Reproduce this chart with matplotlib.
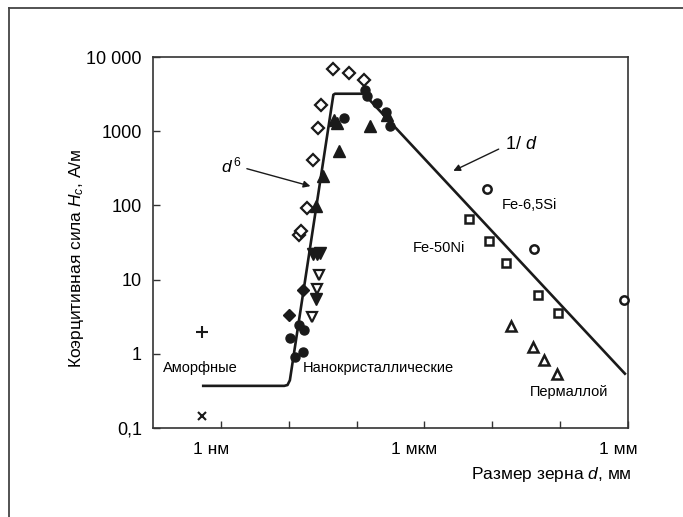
import matplotlib
matplotlib.use("Agg")
import matplotlib.pyplot as plt
import matplotlib.transforms as mtransforms
from matplotlib.lines import Line2D

plt.rcParams['font.family'] = ['Liberation Sans', 'DejaVu Sans']
plt.rcParams['mathtext.fontset'] = 'custom'
plt.rcParams['mathtext.it'] = 'Liberation Sans:italic'
plt.rcParams['mathtext.rm'] = 'Liberation Sans'

# grain size d in nm, coercivity Hc in A/m
line_d = [0.55, 8.6, 9.6, 10.4, 45.5, 48, 128, 9.0e5]
line_hc = [0.37, 0.37, 0.38, 0.44, 3100, 3200, 3200, 0.54]

open_diamond_d = [45.7, 76.7, 130, 30.3, 26.9, 22.9, 18.9, 14.4, 15.1]
open_diamond_hc = [6970, 6080, 4950, 2230, 1117, 413, 93, 40, 45]

filled_circle_d = [134, 143, 200, 273, 312, 66, 10.4, 14.3, 16.7, 12.5, 16.0]
filled_circle_hc = [3630, 2950, 2400, 1815, 1165, 1520, 1.65, 2.42, 2.07, 0.905, 1.06]

filled_tri_d = [47, 52, 156, 54.6, 31.6, 24.9, 285]
filled_tri_hc = [1400, 1300, 1175, 541, 249, 97, 1637]

filled_down_d = [23, 26, 29, 25.4]
filled_down_hc = [22, 22, 23, 5.53]

open_down_d = [27.7, 26.1, 22.2]
open_down_hc = [11.4, 7.55, 3.13]

filled_diamond_d = [16.0, 10.0]
filled_diamond_hc = [7.3, 3.3]

fesi_d = [8260, 41200, 875000]
fesi_hc = [165, 25.6, 5.37]

feni_d = [4510, 8890, 16000, 47700, 94200]
feni_hc = [64.9, 32.8, 16.7, 6.14, 3.58]

permalloy_d = [18600, 39400, 57900, 88900]
permalloy_hc = [2.34, 1.24, 0.834, 0.54]

amorph_plus = (0.52, 1.95)
amorph_cross = (0.52, 0.145)

y_ticks = [0.1, 1, 10, 100, 1000, 10000]
y_labels = ['0,1', '1', '10', '100', '1000', '10 000']
x_ticks = [1, 10, 100, 1e3, 1e4, 1e5, 1e6]
x_labels = ['1 нм', '', '', '1 мкм', '', '', '1 мм']

fig = plt.figure(figsize=(6.83, 5.17), dpi=100)
ax = fig.add_axes([0.224, 0.1721, 0.6955, 0.7176])

c = '#1a1a1a'
ax.plot(line_d, line_hc, color=c, lw=1.9, solid_joinstyle='round', zorder=2)

ax.plot(open_diamond_d, open_diamond_hc, 'D', ms=6.5, mfc='white', mec=c, mew=1.6, ls='none', zorder=3)
ax.plot(filled_circle_d, filled_circle_hc, 'o', ms=6.5, color=c, ls='none', zorder=3)
ax.plot(filled_tri_d, filled_tri_hc, '^', ms=8, color=c, ls='none', zorder=3)
ax.plot(filled_down_d, filled_down_hc, 'v', ms=8, color=c, ls='none', zorder=3)
ax.plot(open_down_d, open_down_hc, 'v', ms=7.5, mfc='white', mec=c, mew=1.6, ls='none', zorder=3)
ax.plot(filled_diamond_d, filled_diamond_hc, 'D', ms=6.5, color=c, ls='none', zorder=3)
ax.plot(fesi_d, fesi_hc, 'o', ms=6, mfc='white', mec=c, mew=1.8, ls='none', zorder=3, clip_on=False)
ax.plot(feni_d, feni_hc, 's', ms=6, mfc='white', mec=c, mew=1.8, ls='none', zorder=3)
ax.plot(permalloy_d, permalloy_hc, '^', ms=7.5, mfc='white', mec=c, mew=1.8, ls='none', zorder=3)
ax.plot(*amorph_plus, '+', ms=8, mew=1.5, color=c)
ax.plot(*amorph_cross, 'x', ms=6, mew=1.5, color=c)

ax.set_xscale('log')
ax.set_yscale('log')
ax.set_xlim(0.1, 1e6)
ax.set_ylim(0.1, 1e4)
ax.set_xticks(x_ticks)
ax.set_xticklabels(x_labels, fontsize=12.5)
ax.set_yticks(y_ticks)
ax.set_yticklabels(y_labels, fontsize=13)
ax.minorticks_off()
ax.tick_params(direction='in', length=5, width=1, color='#333333', pad=10)
ax.tick_params(axis='y', pad=8)
for lab in ax.get_xticklabels():
    lab.set_transform(lab.get_transform() + mtransforms.ScaledTranslation(-0.1, 0, fig.dpi_scale_trans))
for sp in ax.spines.values():
    sp.set_linewidth(1.2)
    sp.set_color('#333333')

ax.set_ylabel(r'Коэрцитивная сила $H_c$, А/м', fontsize=12.5)
ax.yaxis.set_label_coords(-0.14, 0.458)
ax.set_xlabel(r'Размер зерна $d$, мм', fontsize=12.5, ha='right')
ax.xaxis.set_label_coords(1.007, -0.1)

ax.text(0.099, 0.162, 'Аморфные', transform=ax.transAxes, ha='center', va='center', fontsize=10.5)
ax.text(0.316, 0.162, 'Нанокристаллические', transform=ax.transAxes, ha='left', va='center', fontsize=10.5)
ax.text(0.734, 0.601, 'Fe-6,5Si', transform=ax.transAxes, ha='left', va='center', fontsize=10.5)
ax.text(0.547, 0.485, 'Fe-50Ni', transform=ax.transAxes, ha='left', va='center', fontsize=10.5)
ax.text(0.794, 0.097, 'Пермаллой', transform=ax.transAxes, ha='left', va='center', fontsize=10.5)

ax.annotate('', xy=(0.337, 0.650), xytext=(0.192, 0.701), xycoords='axes fraction',
            arrowprops=dict(arrowstyle='-|>', color=c, lw=1, mutation_scale=10))
ax.text(0.166, 0.709, r'$d^{\,6}$', transform=ax.transAxes, ha='center', va='center', fontsize=12.5)
ax.annotate('', xy=(0.627, 0.690), xytext=(0.733, 0.755), xycoords='axes fraction',
            arrowprops=dict(arrowstyle='-|>', color=c, lw=1, mutation_scale=10))
ax.text(0.741, 0.765, r'1/ $d$', transform=ax.transAxes, ha='left', va='center', fontsize=13)

# partial outer frame
fig.add_artist(Line2D([0.0132, 1.0], [0.9836, 0.9836], color='#444444', lw=1.3))
fig.add_artist(Line2D([0.0132, 0.0132], [0.0, 0.9836], color='#444444', lw=1.3))

fig.savefig('out.png', dpi=100)
